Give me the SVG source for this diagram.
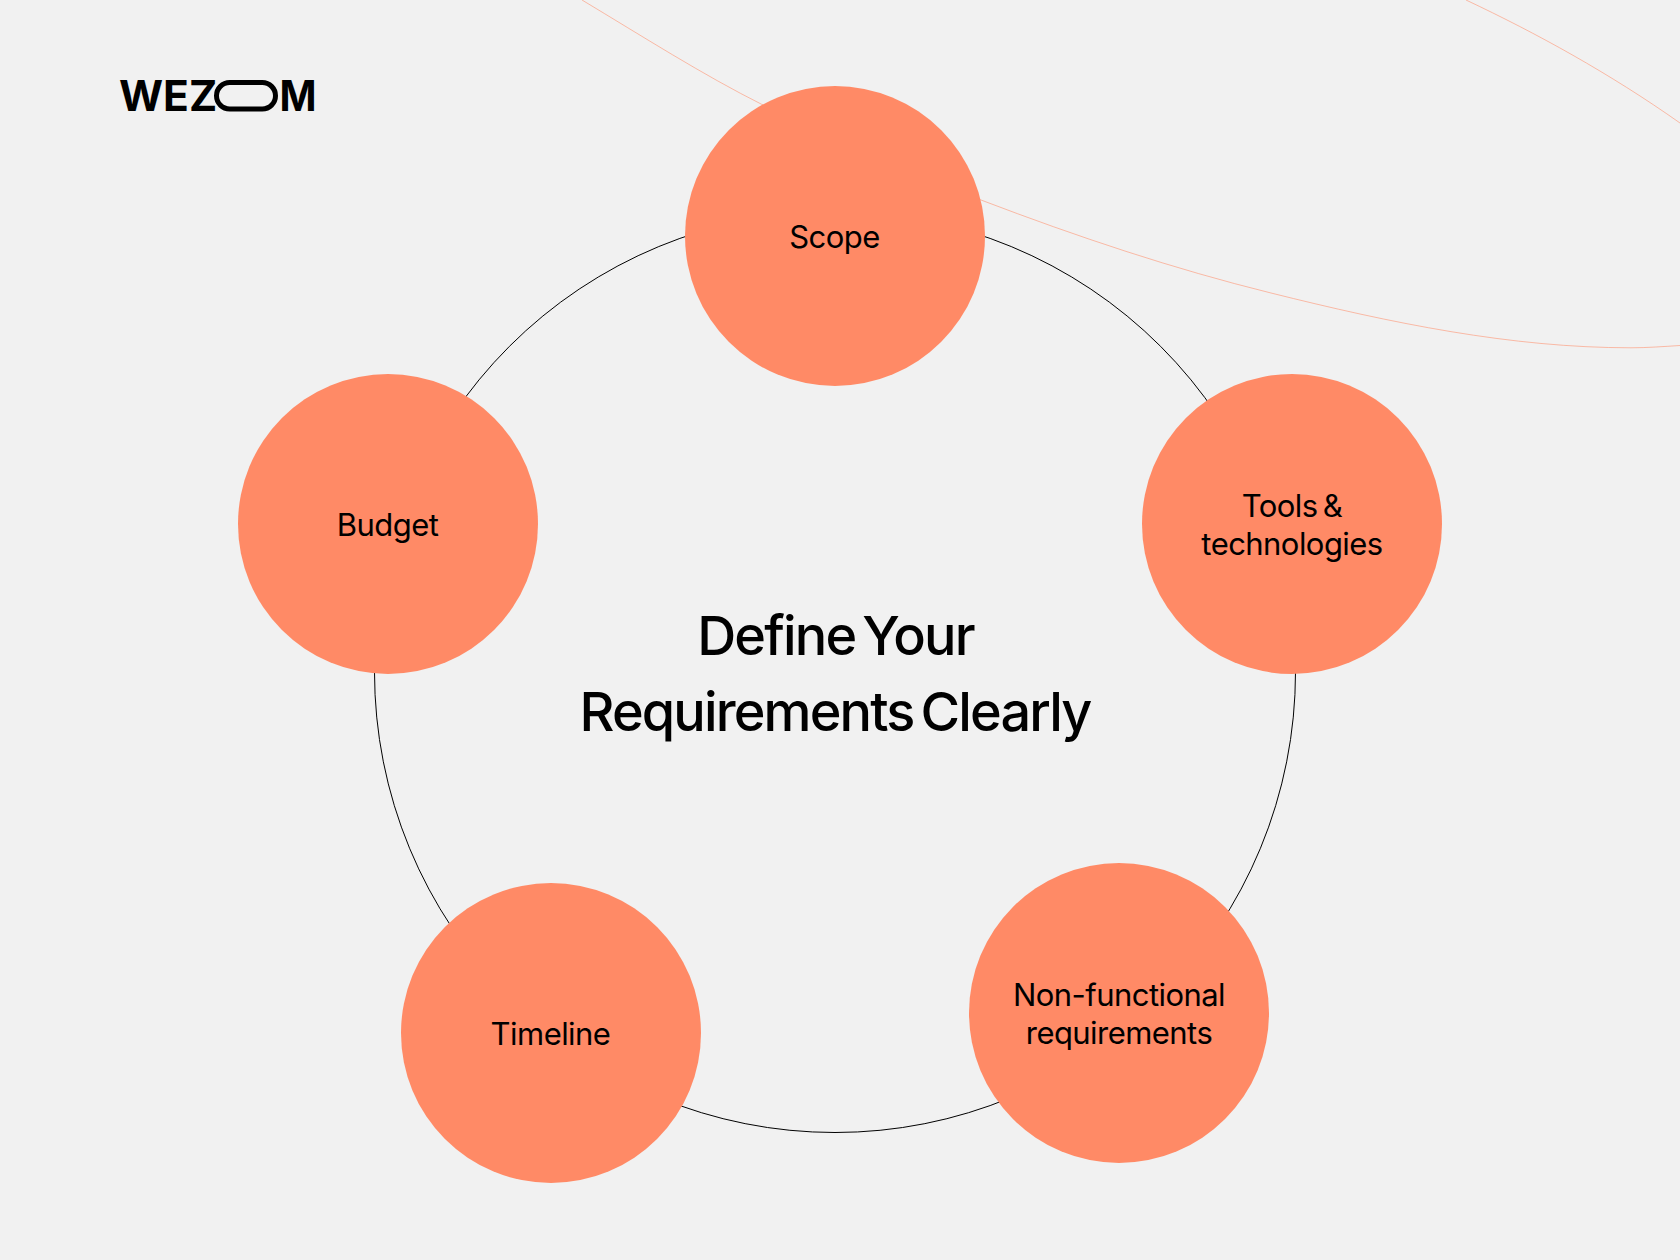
<svg xmlns="http://www.w3.org/2000/svg" width="1680" height="1260" viewBox="0 0 1680 1260">
<style>
.n{fill:#FF8A66}
text{font-family:"Inter","Liberation Sans",sans-serif;fill:#000;text-anchor:middle}
.l{font-size:31px;letter-spacing:-0.55px;word-spacing:-3px}
.t{font-size:54px;font-weight:500;letter-spacing:-1.85px;word-spacing:-5.500px}
.logo{font-size:42.500px;font-weight:700;text-anchor:start}
.deco{fill:none;stroke:#FF8A66;stroke-opacity:.55;stroke-width:1}
</style>
<rect width="1680" height="1260" fill="#F1F1F1"/>
<g id="decoration">
<path class="deco" d="M582 0C642 36 703 75 763 105C836 141.500 908 172 981 200C1078 237 1174 269 1271 293C1391 323 1511 347.800 1631 347.800C1647 347.800 1664 346.500 1680 345.500"/>
<path class="deco" d="M1466 0C1537 33.500 1609 73 1680 123"/>
</g>
<g id="connectors"><circle cx="835" cy="672" r="460.500" fill="none" stroke="#000" stroke-width="1"/></g>
<g id="logo">
<text class="logo" x="119" y="111">WEZ</text>
<rect x="216.500" y="82.500" width="59" height="26.500" rx="13.250" fill="none" stroke="#000" stroke-width="5"/>
<text class="logo" x="279.500" y="111" textLength="37" lengthAdjust="spacingAndGlyphs">M</text>
</g>
<g id="title"><text class="t" x="835.500" y="655">Define Your</text><text class="t" x="835" y="731">Requirements Clearly</text></g>
<g id="node-scope"><circle class="n" cx="835" cy="236" r="150"/><text class="l" x="834.500" y="247.500">Scope</text></g>
<g id="node-tools"><circle class="n" cx="1292" cy="524" r="150"/><text class="l" x="1292" y="517">Tools &amp;</text><text class="l" x="1292" y="554.500">technologies</text></g>
<g id="node-nonfunctional"><circle class="n" cx="1119" cy="1013" r="150"/><text class="l" x="1119" y="1006">Non-functional</text><text class="l" x="1119" y="1044">requirements</text></g>
<g id="node-timeline"><circle class="n" cx="551" cy="1033" r="150"/><text class="l" x="550.500" y="1045">Timeline</text></g>
<g id="node-budget"><circle class="n" cx="388" cy="524" r="150"/><text class="l" x="387.500" y="536">Budget</text></g>
</svg>
